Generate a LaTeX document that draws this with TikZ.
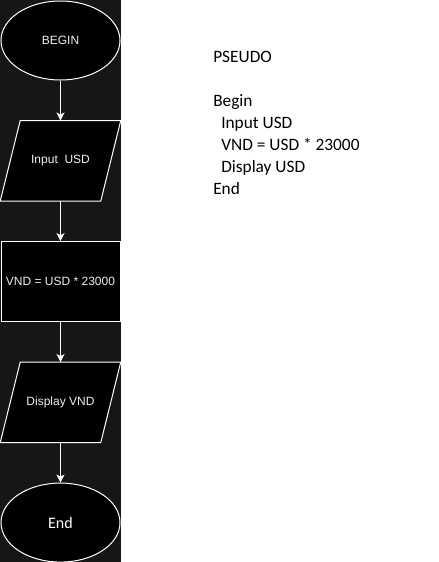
\documentclass[tikz,border=0pt]{standalone}
\usepackage{fontspec}
\setmainfont{Carlito}
\newfontfamily\chartfont{Liberation Sans}
\usetikzlibrary{shapes.geometric, positioning, arrows.meta, backgrounds}
\definecolor{panelbg}{HTML}{161616}
\definecolor{chartfg}{HTML}{F0F0F0}

\begin{document}
\begin{tikzpicture}[
  x=0.75pt, y=-0.75pt,
  node distance=30pt,
  terminal/.style={
    ellipse,
    draw=white,
    fill=black,
    line width=0.75pt,
    minimum width=89.25pt,
    minimum height=59.25pt,
    inner sep=0pt,
    text=white,
    font=\fontsize{12}{14}\selectfont
  },
  io/.style={
    rectangle,
    minimum width=90pt,
    minimum height=60pt,
    inner sep=0pt,
    text=chartfg,
    font=\chartfont\fontsize{9}{11}\selectfont
  },
  iobox/.style={draw=white, fill=black, line width=0.75pt},
  process/.style={
    rectangle,
    draw=white,
    fill=black,
    line width=0.75pt,
    minimum width=89.25pt,
    minimum height=60pt,
    inner sep=0pt,
    text=chartfg,
    font=\chartfont\fontsize{9}{11}\selectfont
  },
  arrow/.style={-{Stealth[length=6pt, width=6pt, inset=1.5pt]}, draw=white, line width=0.75pt}
]

\useasboundingbox (0,0) rectangle (439,562);

\node[terminal, font=\chartfont\fontsize{9}{11}\selectfont, text=chartfg] (begin) at (60.5,40.5) {BEGIN};
\node[io, below=of begin] (input) {Input\ \ USD};
\node[process, below=of input] (calc) {VND = USD * 23000};
\node[io, below=of calc] (display) {Display VND};
\node[terminal, below=of display] (end) {End};

% parallelograms and the dark panel behind the nodes
\begin{scope}[on background layer]
  \fill[panelbg] (0,0) rectangle (121,562);
  \foreach \n in {input, display}
    \draw[iobox] ([xshift=15pt]\n.north west) -- (\n.north east)
      -- ([xshift=-15pt]\n.south east) -- (\n.south west) -- cycle;
\end{scope}

\draw[arrow] (begin) -- (input);
\draw[arrow] (input) -- (calc);
\draw[arrow] (calc) -- (display);
\draw[arrow] (display) -- (end);

% pseudo code on the right
\node[anchor=base west, inner sep=0pt, align=left,
      font=\fontsize{13}{16.5}\selectfont] (pseudo) at (213,194.3)
  {PSEUDO\\[16.5pt]
   Begin\\
   \hspace*{6pt}Input USD\\
   \hspace*{6pt}VND = USD * 23000\\
   \hspace*{6pt}Display USD\\
   End};

\end{tikzpicture}
\end{document}
